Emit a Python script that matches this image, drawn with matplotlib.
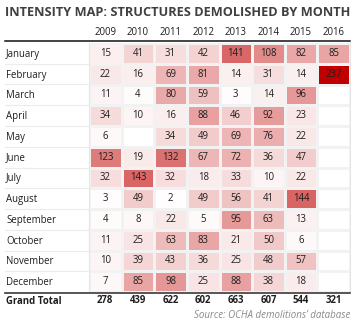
import numpy as np
import matplotlib
matplotlib.use("Agg")
import matplotlib.pyplot as plt
from matplotlib.colors import LinearSegmentedColormap
from matplotlib.lines import Line2D

plt.rcParams["font.family"] = ["Open Sans", "DejaVu Sans"]

years = ["2009", "2010", "2011", "2012", "2013", "2014", "2015", "2016"]
months = ["January", "February", "March", "April", "May", "June", "July",
          "August", "September", "October", "November", "December"]

# demolitions per month, one list per year (None = no data)
y2009 = [15, 22, 11, 34, 6, 123, 32, 3, 4, 11, 10, 7]
y2010 = [41, 16, 4, 10, None, 19, 143, 49, 8, 25, 39, 85]
y2011 = [31, 69, 80, 16, 34, 132, 32, 2, 22, 63, 43, 98]
y2012 = [42, 81, 59, 88, 49, 67, 18, 49, 5, 83, 36, 25]
y2013 = [141, 14, 3, 46, 69, 72, 33, 56, 95, 21, 25, 88]
y2014 = [108, 31, 14, 92, 76, 36, 10, 41, 63, 50, 48, 38]
y2015 = [82, 14, 96, 23, 22, 47, 22, 144, 13, 6, 57, 18]
y2016 = [85, 237, None, None, None, None, None, None, None, None, None, None]
totals = [278, 439, 622, 602, 663, 607, 544, 321]

cols = [y2009, y2010, y2011, y2012, y2013, y2014, y2015, y2016]
grid = np.array([[np.nan if v is None else v for v in c] for c in cols], dtype=float).T

W, H = 355, 324
fig = plt.figure(figsize=(W / 100, H / 100), dpi=100)
x0, x1, ytop, ybot = 89, 350, 43, 292
ax = fig.add_axes([x0 / W, 1 - ybot / H, (x1 - x0) / W, (ybot - ytop) / H])

cmap = LinearSegmentedColormap.from_list("reds", ["#ffffff", "#c00000"])
cmap.set_bad("white")
ax.pcolormesh(np.ma.masked_invalid(grid), cmap=cmap, vmin=0, vmax=237,
              edgecolor="#f2f2f2", linewidth=0.9)
ax.set_xlim(0, len(years))
ax.set_ylim(len(months), 0)
ax.axis("off")

txt = "#1e1e1e"
fs = 6.9
for r, m in enumerate(months):
    fig.text(6 / W, 1 - (ytop + (r + 0.5) * (ybot - ytop) / 12 + 1) / H, m,
             fontsize=fs, color=txt, ha="left", va="center")
    for c in range(len(years)):
        v = grid[r, c]
        if not np.isnan(v):
            ax.text(c + 0.5, r + 0.5, f"{int(v)}", fontsize=fs, color=txt,
                    ha="center", va="center")

for c, yr in enumerate(years):
    ax.text(c + 0.5, -0.5, yr, fontsize=fs, color=txt, ha="center",
            va="center", clip_on=False)
    ax.text(c + 0.5, 12.4, f"{totals[c]}", fontsize=fs, color=txt,
            ha="center", va="center", fontweight="bold", clip_on=False)
fig.text(6 / W, 1 - 301 / H, "Grand Total", fontsize=fs, color=txt,
         ha="left", va="center", fontweight="bold")

# row separators
for i in range(1, 12):
    yy = 1 - (ytop + i * (ybot - ytop) / 12) / H
    fig.add_artist(Line2D([5 / W, x0 / W], [yy, yy], color="#ececec", lw=0.8))
fig.add_artist(Line2D([x0 / W, x0 / W], [1 - ytop / H, 1 - ybot / H],
                      color="#e6e6e6", lw=0.8))
fig.add_artist(Line2D([x1 / W, x1 / W], [1 - ytop / H, 1 - ybot / H],
                      color="#e6e6e6", lw=0.8))
fig.add_artist(Line2D([5 / W, x1 / W], [1 - 41 / H, 1 - 41 / H], color="#111111", lw=1.1))
fig.add_artist(Line2D([5 / W, x1 / W], [1 - 292.5 / H, 1 - 292.5 / H], color="#3a3a3a", lw=1.2))

fig.text(5 / W, 1 - 12 / H, "INTENSITY MAP: STRUCTURES DEMOLISHED BY MONTH",
         fontsize=9.2, fontweight="bold", color="#404040", ha="left", va="center")
fig.text(350 / W, 1 - 315 / H, "Source: OCHA demolitions\u2019 database",
         fontsize=7, style="italic", color="#8a8a8a", ha="right", va="center")

fig.savefig("out.png", dpi=100)
